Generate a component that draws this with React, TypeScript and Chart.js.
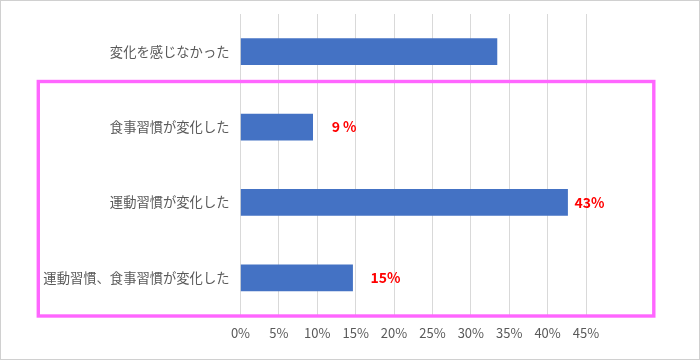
import React, { useEffect, useRef } from "react";
import { Chart, registerables } from "chart.js";

Chart.register(...registerables);

const categories = [
  "変化を感じなかった",
  "食事習慣が変化した",
  "運動習慣が変化した",
  "運動習慣、食事習慣が変化した",
];
const values = [33.4, 9.4, 42.6, 14.6];
const valueLabels = ["", "9 %", "43%", "15%"];
const xTicks = [0, 5, 10, 15, 20, 25, 30, 35, 40, 45];

const FONT = '"Noto Sans CJK JP", "Noto Sans", sans-serif';

const labelPlugin = {
  id: "valueLabels",
  afterDatasetsDraw(chart: any, _args: any, opts: any) {
    const ctx = chart.ctx;
    const meta = chart.getDatasetMeta(0);
    const xs = chart.scales.x;
    ctx.save();
    ctx.font = `bold 14px ${FONT}`;
    ctx.fillStyle = "#FF0000";
    ctx.textBaseline = "middle";
    ctx.textAlign = "left";
    meta.data.forEach((bar: any, i: number) => {
      const t = valueLabels[i];
      if (!t) return;
      const x = xs.getPixelForValue(values[i]) + (opts.offsets[i] || 0);
      ctx.fillText(t, x, bar.y);
    });
    ctx.restore();
  },
};

const boxPlugin = {
  id: "highlightBox",
  afterDraw(chart: any, _args: any, opts: any) {
    const ctx = chart.ctx;
    ctx.save();
    ctx.strokeStyle = opts.color;
    ctx.lineWidth = opts.lineWidth;
    const r = opts.rect;
    ctx.strokeRect(r[0], r[1], r[2] - r[0], r[3] - r[1]);
    ctx.restore();
  },
};

export default function App() {
  const ref = useRef<HTMLCanvasElement>(null);
  useEffect(() => {
    if (!ref.current) return;
    const chart = new Chart(ref.current, {
      type: "bar",
      data: {
        labels: categories,
        datasets: [
          {
            data: values,
            backgroundColor: "#4472C4",
            borderWidth: 0,
            barThickness: 26,
          },
        ],
      },
      plugins: [labelPlugin, boxPlugin],
      options: {
        indexAxis: "y",
        animation: false,
        responsive: false,
        maintainAspectRatio: false,
        layout: { padding: { top: 13, right: 113, left: 0, bottom: 0 } },
        plugins: {
          legend: { display: false },
          tooltip: { enabled: false },
          valueLabels: { offsets: [0, 19, 7, 18] },
          highlightBox: {
            color: "#FF66FF",
            lineWidth: 3.4,
            rect: [37.3, 80.5, 652.8, 315],
          },
        } as any,
        scales: {
          x: {
            min: 0,
            max: 45,
            afterBuildTicks: (s: any) => {
              s.ticks = xTicks.map((v) => ({ value: v }));
            },
            afterFit: (s: any) => {
              s.height = 43.5;
              s.paddingLeft = 0;
              s.paddingRight = 0;
            },
            ticks: {
              callback: (v: any) => v + "%",
              color: "#595959",
              font: { family: FONT, size: 13 },
              padding: 10,
              maxRotation: 0,
              autoSkip: false,
            },
            grid: { color: "#D9D9D9", drawTicks: false, lineWidth: 1 },
            border: { display: false },
          },
          y: {
            afterFit: (s: any) => {
              s.width = 239.5;
              s.paddingTop = 0;
              s.paddingBottom = 0;
            },
            ticks: {
              color: "#595959",
              font: { family: FONT, size: 13.3 },
              padding: 11,
            },
            grid: { display: false, drawTicks: false },
            border: { display: false },
          },
        },
      },
    });
    return () => chart.destroy();
  }, []);
  return (
    <div
      style={{
        position: "fixed",
        left: 0,
        top: 0,
        width: 700,
        height: 360,
        boxSizing: "border-box",
        border: "1px solid #D0D0D0",
        background: "#fff",
      }}
    >
      <canvas ref={ref} width={698} height={358} style={{ display: "block" }} />
    </div>
  );
}
